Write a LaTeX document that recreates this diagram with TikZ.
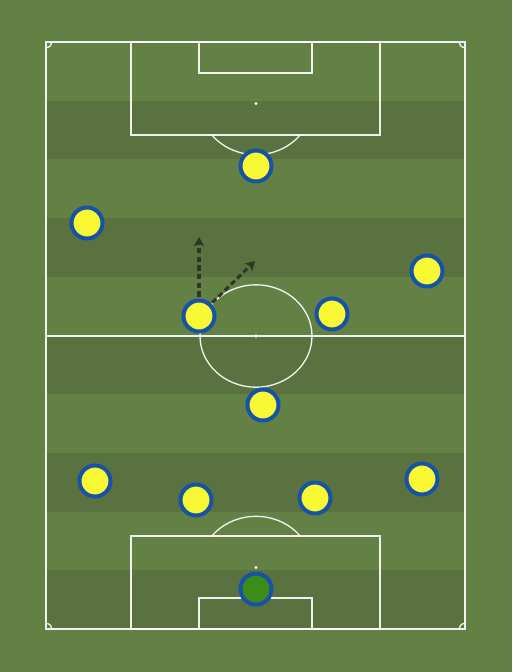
\documentclass[tikz,border=0pt]{standalone}
\usetikzlibrary{arrows.meta}
\definecolor{bglight}{RGB}{99,128,69}
\definecolor{bgdark}{RGB}{89,114,63}
\definecolor{pyellow}{RGB}{248,248,52}
\definecolor{pblue}{RGB}{22,82,168}
\definecolor{gkgreen}{RGB}{60,140,25}
\definecolor{arrowc}{RGB}{45,55,35}
\newlength{\pxu}
\setlength{\pxu}{0.75pt}
\tikzset{
  pline/.style={draw=white, draw opacity=0.9, line width=1pt},
  player/.style={circle, fill=pyellow, draw=pblue, line width=3pt, minimum size=31\pxu, inner sep=0pt},
  keeper/.style={player, fill=gkgreen},
  runarrow/.style={draw=arrowc, line width=2.3pt, dash pattern=on 4pt off 2.5pt, -{Stealth[length=7pt,width=8pt,inset=2pt]}},
}
\begin{document}
\begin{tikzpicture}[x=0.75pt,y=-0.75pt]
\useasboundingbox (0,0) rectangle (512,672);
\fill[bglight] (0,0) rectangle (512,672);
% stripes
\foreach \i in {1,3,5,7,9} {
  \fill[bgdark] (46,{42+\i*58.7}) rectangle (465,{42+(\i+1)*58.7});
}
% pitch outline
\draw[pline] (46,42) rectangle (465,629);
\draw[pline] (46,336) -- (465,336);
\draw[pline] (256,336) ellipse [x radius=56, y radius=51.2];
\fill[white] (256,336) circle [radius=1.8];
% top
\draw[pline] (131,42) rectangle (380,135);
\draw[pline] (199,42) rectangle (312,73);
\fill[white] (256,103.5) circle [radius=1.6];
\begin{scope}
\clip (46,135) rectangle (465,200);
\draw[pline] (256,103.5) ellipse [x radius=56, y radius=51.2];
\end{scope}
% bottom
\draw[pline] (131,536) rectangle (380,629);
\draw[pline] (199,598) rectangle (312,629);
\fill[white] (256,567.5) circle [radius=1.6];
\begin{scope}
\clip (46,470) rectangle (465,536);
\draw[pline] (256,567.5) ellipse [x radius=56, y radius=51.2];
\end{scope}
% corner arcs
\draw[pline] (52,42) arc[start angle=0, end angle=-90, x radius=6, y radius=-5.6];
\draw[pline] (459,42) arc[start angle=180, end angle=270, x radius=6, y radius=-5.6];
\draw[pline] (52,629) arc[start angle=0, end angle=90, x radius=6, y radius=-5.6];
\draw[pline] (459,629) arc[start angle=180, end angle=90, x radius=6, y radius=-5.6];
% players
\node[keeper] (gk) at (256,589) {};
\node[player] (p1) at (256,166) {};
\node[player] (p2) at (87,223) {};
\node[player] (p3) at (427,271) {};
\node[player] (p4) at (199,316) {};
\node[player] (p5) at (332,314) {};
\node[player] (p6) at (263,405) {};
\node[player] (p7) at (95,481) {};
\node[player] (p8) at (196,500) {};
\node[player] (p9) at (315,498) {};
\node[player] (p10) at (422,479) {};
% runs
\coordinate (r1) at (199,237);
\coordinate (r2) at (255,261);
\draw[runarrow] (p4.north) ++(0,-2) -- (r1);
\draw[runarrow] (p4.45) ++(1,-1) -- (r2);
\end{tikzpicture}
\end{document}
